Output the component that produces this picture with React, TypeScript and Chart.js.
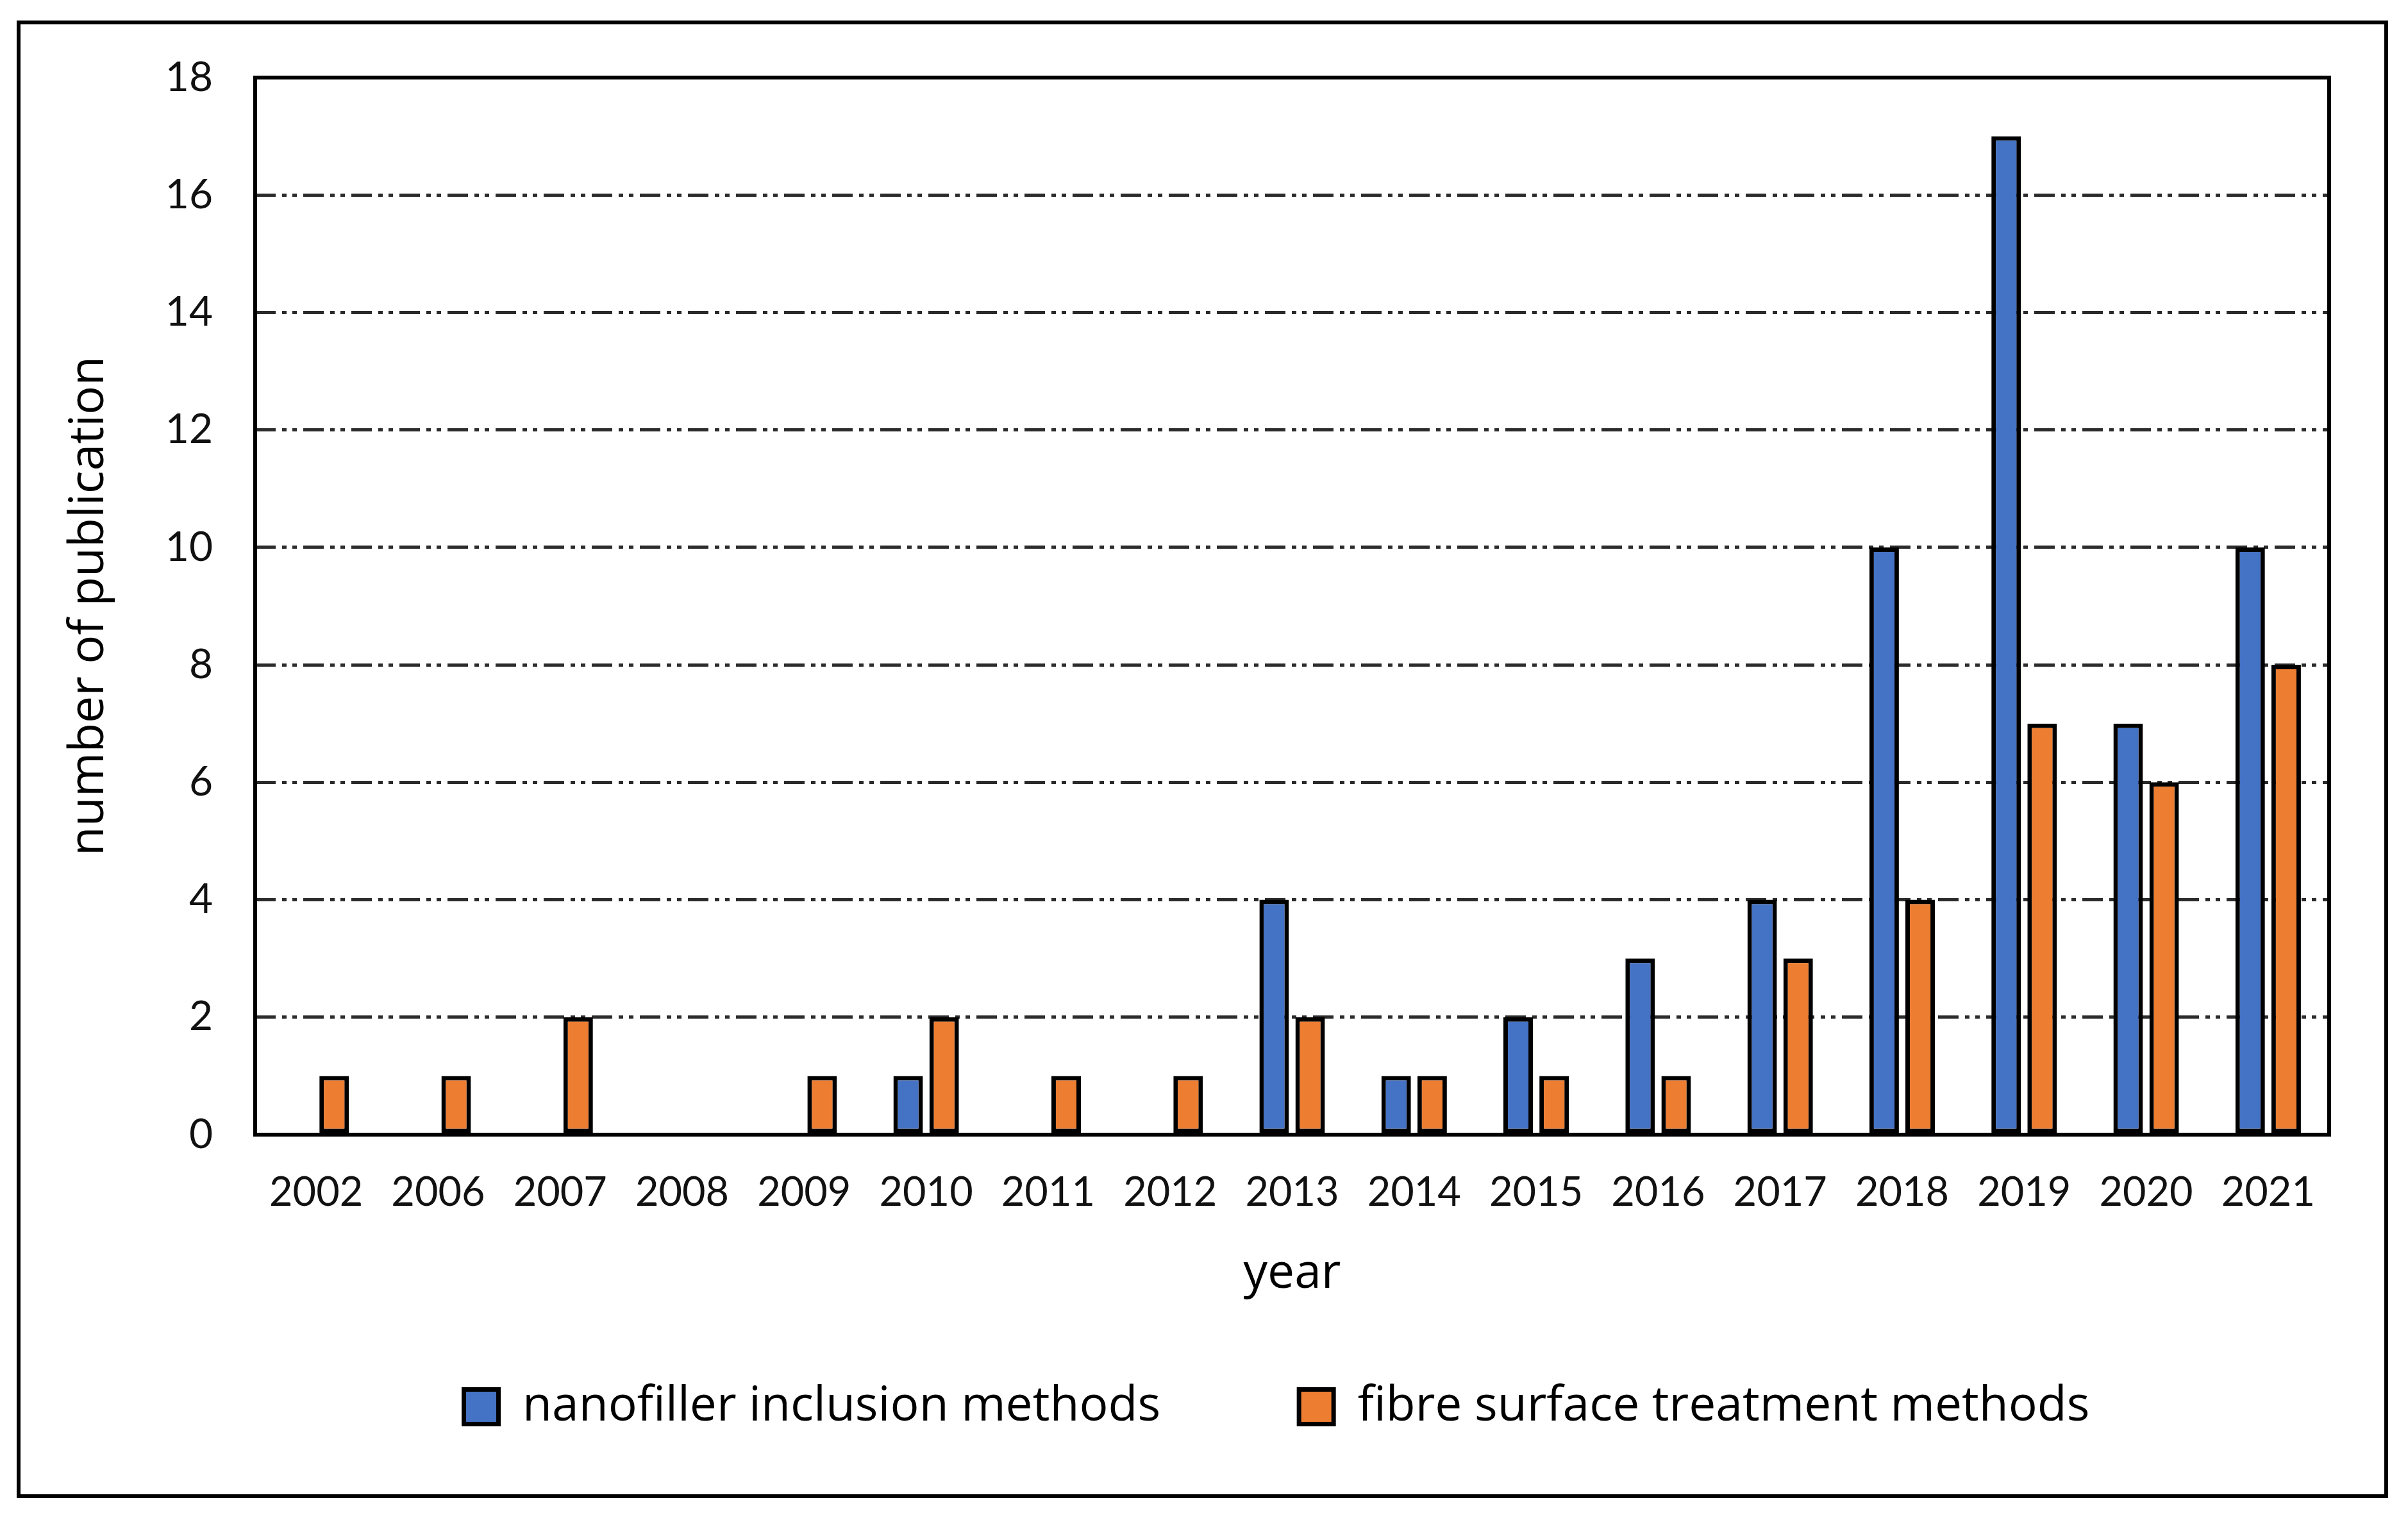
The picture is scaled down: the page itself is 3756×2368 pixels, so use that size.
import React, { useEffect, useRef } from "react";
import { Chart, registerables } from "chart.js";

Chart.register(...registerables);

const years = ["2002", "2006", "2007", "2008", "2009", "2010", "2011", "2012", "2013", "2014", "2015", "2016", "2017", "2018", "2019", "2020", "2021"];
const nanofiller = [0, 0, 0, 0, 0, 1, 0, 0, 4, 1, 2, 3, 4, 10, 17, 7, 10];
const fibreSurface = [1, 1, 2, 0, 1, 2, 1, 1, 2, 1, 1, 1, 3, 4, 7, 6, 8];
const seriesNames = ["nanofiller inclusion methods", "fibre surface treatment methods"];
const yTicks = [0, 2, 4, 6, 8, 10, 12, 14, 16, 18];

const W = 3756;
const H = 2368;

const framePlugin = {
  id: "frames",
  beforeDraw(chart: any) {
    const ctx = chart.ctx;
    ctx.save();
    ctx.fillStyle = "#ffffff";
    ctx.fillRect(0, 0, chart.width, chart.height);
    ctx.strokeStyle = "#000000";
    ctx.lineWidth = 6;
    ctx.strokeRect(29, 35, 3693, 2299);
    ctx.restore();
  },
  afterDatasetsDraw(chart: any) {
    const { ctx, chartArea } = chart;
    ctx.save();
    ctx.strokeStyle = "#000000";
    ctx.lineWidth = 6;
    ctx.strokeRect(chartArea.left, chartArea.top, chartArea.right - chartArea.left, chartArea.bottom - chartArea.top);
    ctx.restore();
  },
  afterLayout(chart: any) {
    const lg = chart.legend;
    if (lg) {
      lg.left += 165;
      lg.right += 165;
    }
  },
};

export default function App() {
  const ref = useRef<HTMLCanvasElement | null>(null);
  useEffect(() => {
    if (!ref.current) return;
    const chart = new Chart(ref.current, {
      type: "bar",
      data: {
        labels: years,
        datasets: [
          {
            label: seriesNames[0],
            data: nanofiller,
            backgroundColor: "#4472C4",
            borderColor: "#000000",
            borderWidth: 7,
            borderSkipped: false,
            categoryPercentage: 0.59,
            barPercentage: 0.82,
          },
          {
            label: seriesNames[1],
            data: fibreSurface,
            backgroundColor: "#ED7D31",
            borderColor: "#000000",
            borderWidth: 7,
            borderSkipped: false,
            categoryPercentage: 0.59,
            barPercentage: 0.82,
          },
        ],
      },
      options: {
        animation: false,
        responsive: true,
        maintainAspectRatio: false,
        devicePixelRatio: 1,
        layout: { padding: { left: 20, right: 123, top: 121, bottom: 126 } },
        plugins: {
          legend: {
            position: "bottom",
            labels: {
              boxWidth: 54,
              boxHeight: 54,
              padding: 216,
              color: "#000000",
              font: { family: "'Open Sans'", size: 75 },
            },
          },
          tooltip: { enabled: false },
        },
        scales: {
          x: {
            grid: { display: false, drawTicks: false },
            border: { display: false },
            ticks: {
              color: "#111111",
              padding: 53,
              font: { family: "Lato", size: 63 },
            },
            title: {
              display: true,
              text: "year",
              color: "#000000",
              font: { family: "'Open Sans'", size: 75 },
              padding: { top: 0, bottom: -92 },
            },
            afterFit(scale: any) {
              scale.height = 171;
            },
          },
          y: {
            min: 0,
            max: 18,
            afterBuildTicks(scale: any) {
              scale.ticks = yTicks.map((v) => ({ value: v }));
            },
            grid: {
              drawTicks: false,
              lineWidth: 5,
              color: (c: any) =>
                c.tick && (c.tick.value === 0 || c.tick.value === 18) ? "rgba(0,0,0,0)" : "#2b2b2b",
            },
            border: { display: false, dash: [32, 10, 7, 9, 7, 10] },
            ticks: {
              color: "#111111",
              padding: 66,
              font: { family: "Lato", size: 64 },
            },
            title: {
              display: true,
              text: "number of publication",
              color: "#000000",
              font: { family: "'Open Sans'", size: 75 },
              padding: { top: 75, bottom: 0 },
            },
            afterFit(scale: any) {
              scale.width = 378;
            },
          },
        },
      },
      plugins: [framePlugin],
    });
    return () => chart.destroy();
  }, []);
  return (
    <div style={{ position: "fixed", left: 0, top: 0, width: W, height: H, background: "#fff" }}>
      <canvas ref={ref} />
    </div>
  );
}
